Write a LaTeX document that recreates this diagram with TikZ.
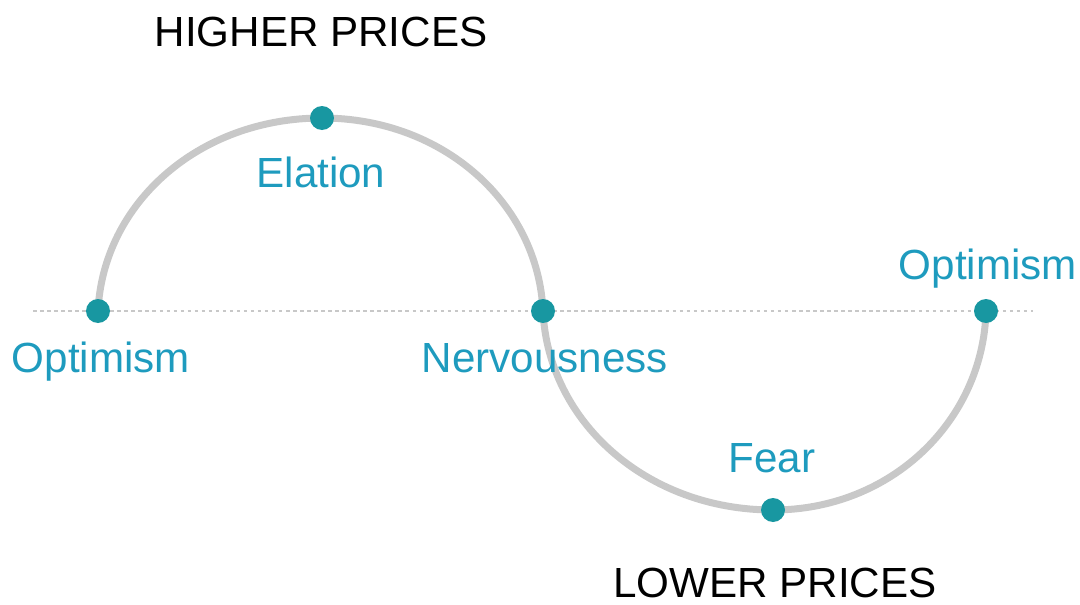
\documentclass[tikz,border=0pt]{standalone}
\usepackage{fontspec}
\setmainfont{Liberation Sans}
\usepackage{xcolor}
\usetikzlibrary{positioning}
\definecolor{tealdot}{RGB}{24, 151, 161}
\definecolor{moodblue}{RGB}{30, 155, 190}
\definecolor{wavegray}{RGB}{200, 200, 200}
\definecolor{axisgray}{RGB}{200, 200, 200}

\begin{document}
\begin{tikzpicture}[x=0.02cm, y=-0.02cm,
    dot/.style={circle, fill=tealdot, inner sep=0pt, minimum size=24*0.02cm},
    mood/.style={text=moodblue, font=\fontsize{24}{28}\selectfont, anchor=base},
    price/.style={text=black, font=\fontsize{24}{28}\selectfont, anchor=base},
    wave/.style={draw=wavegray, line width=7*0.02cm, line cap=round}
]
    \useasboundingbox (0,0) rectangle (1080,605);
    % zero line
    \coordinate (zl) at (33,311);
    \coordinate (zr) at (1033,311);
    \draw[axisgray, line width=0.6pt, dash pattern=on 2pt off 2pt] (zl) -- (zr);
    % points on the cycle
    \coordinate (opt1) at (98,311);
    \coordinate (elat) at (322,118);
    \coordinate (nerv) at (543,311);
    \coordinate (fear) at (773,510);
    \coordinate (opt2) at (986,311);
    % the cycle
    \draw[wave] (opt1) .. controls (103,204) and (198,118) .. (elat)
        .. controls (444,118) and (538,204) .. (nerv)
        .. controls (548,421) and (646,510) .. (fear)
        .. controls (891,510) and (983,421) .. (opt2);
    \foreach \p in {opt1, elat, nerv, fear, opt2} \node[dot] (d\p) at (\p) {};
    % labels
    \node[mood] (lopt1) at (101,372) {Optimism};
    \node[mood] (lelat) at (321,187) {Elation};
    \node[mood] (lnerv) at (545,372) {Nervousness};
    \node[mood] (lfear) at (772,472) {Fear};
    \node[mood] (lopt2) at (988,279) {Optimism};
    \node[price] (high) at (321,47) {HIGHER PRICES};
    \node[price] (low) at (775,597) {LOWER PRICES};
\end{tikzpicture}
\end{document}
